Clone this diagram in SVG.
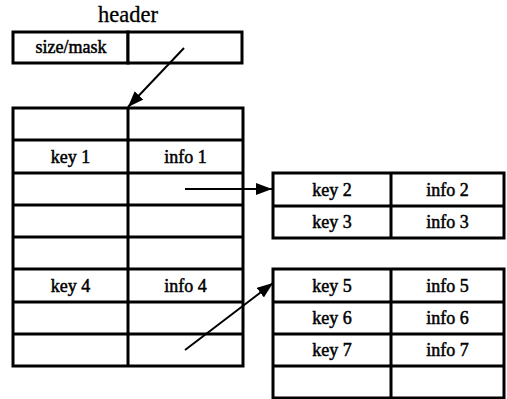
<svg xmlns="http://www.w3.org/2000/svg" width="507" height="399" viewBox="0 0 507 399">
<style>
.cell{fill:#fff;stroke:#000;stroke-width:3}
.t{font-family:"Liberation Serif","Times New Roman","DejaVu Serif",serif;font-size:18px;fill:#000;stroke:#000;stroke-width:0.5;text-anchor:middle}
.h{font-size:22.5px;stroke-width:0.3}
.c{stroke:#000;stroke-width:2;fill:none}
</style>
<defs>
<marker id="ahb" viewBox="0 0 16 12" refX="16" refY="6" markerWidth="16" markerHeight="12" markerUnits="userSpaceOnUse" orient="auto">
<path d="M0,0 L16,6 L0,12 z" fill="#000"/>
</marker>
</defs>
<g id="header">
<text class="t h" x="128" y="22">header</text>
<rect class="cell" x="13" y="32" width="115" height="31"/>
<rect class="cell" x="128" y="32" width="114" height="31"/>
<text class="t" x="71" y="53">size/mask</text>
</g>
<g id="table">
<rect class="cell" x="13" y="108" width="230" height="258"/>
<path d="M128,108 V366 M13,140 H243 M13,173 H243 M13,205 H243 M13,237 H243 M13,269 H243 M13,302 H243 M13,334 H243" stroke="#000" stroke-width="3" fill="none"/>
<text class="t" x="70.5" y="163">key 1</text>
<text class="t" x="185.5" y="163">info 1</text>
<text class="t" x="70.5" y="292">key 4</text>
<text class="t" x="185.5" y="292">info 4</text>
</g>
<g id="bucket1">
<rect class="cell" x="273" y="173" width="231" height="65"/>
<path d="M391,173 V238 M273,206 H504" stroke="#000" stroke-width="3" fill="none"/>
<text class="t" x="332" y="196">key 2</text>
<text class="t" x="447.5" y="196">info 2</text>
<text class="t" x="332" y="228">key 3</text>
<text class="t" x="447.5" y="228">info 3</text>
</g>
<g id="bucket2">
<rect class="cell" x="273" y="269" width="231" height="129"/>
<path d="M391,269 V398 M273,302 H504 M273,334 H504 M273,366 H504" stroke="#000" stroke-width="3" fill="none"/>
<text class="t" x="332" y="292">key 5</text>
<text class="t" x="447.5" y="292">info 5</text>
<text class="t" x="332" y="324">key 6</text>
<text class="t" x="447.5" y="324">info 6</text>
<text class="t" x="332" y="356">key 7</text>
<text class="t" x="447.5" y="356">info 7</text>
</g>
<g id="connectors">
<line class="c" x1="184" y1="48" x2="128" y2="107" marker-end="url(#ahb)"/>
<line class="c" x1="185" y1="189" x2="272" y2="189" marker-end="url(#ahb)"/>
<line class="c" x1="185" y1="350" x2="273" y2="283" marker-end="url(#ahb)"/>
</g>
</svg>
